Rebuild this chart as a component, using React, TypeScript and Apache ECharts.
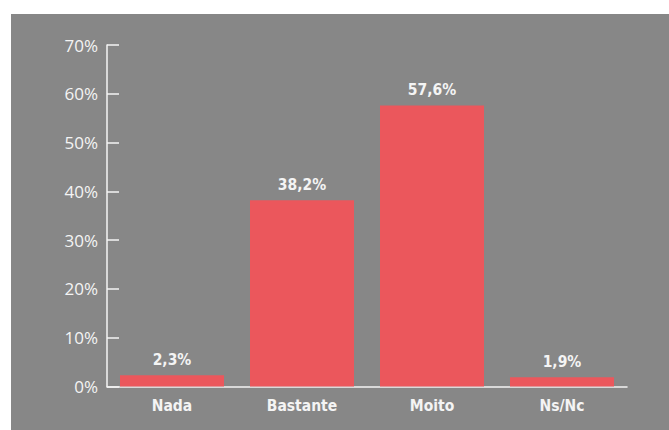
import React, { useEffect, useRef } from "react";
import * as echarts from "echarts";

const categories = ["Nada", "Bastante", "Moito", "Ns/Nc"];
const values = [2.3, 38.2, 57.6, 1.9];
const yTicks = { min: 0, max: 70, interval: 10 };

const BG = "#878787";
const BAR = "#EB575C";
const TXT = "#F4F4F4";
const NARROW = "'Liberation Sans Narrow', 'DejaVu Sans Condensed', sans-serif";

export default function App() {
  const ref = useRef<HTMLDivElement>(null);
  useEffect(() => {
    if (!ref.current) return;
    const chart = echarts.init(ref.current, null, { renderer: "svg" });
    chart.setOption({
      animation: false,
      backgroundColor: BG,
      grid: { left: 96, right: 42, top: 31, bottom: 43.5 },
      xAxis: {
        type: "category",
        data: categories,
        boundaryGap: true,
        axisLine: { lineStyle: { color: TXT, width: 1.5 } },
        axisTick: { inside: true, length: 8, lineStyle: { color: TXT, width: 1.5 } },
        axisLabel: {
          color: TXT,
          fontFamily: NARROW,
          fontWeight: "bold",
          fontSize: 15.5,
          margin: 11,
        },
      },
      yAxis: {
        type: "value",
        min: yTicks.min,
        max: yTicks.max,
        interval: yTicks.interval,
        splitLine: { show: false },
        axisLine: { show: true, lineStyle: { color: TXT, width: 1.5 } },
        axisTick: { show: true, inside: true, length: 12, lineStyle: { color: TXT, width: 1.5 } },
        axisLabel: {
          color: TXT,
          fontFamily: "'Open Sans', sans-serif",
          fontSize: 17,
          margin: 9,
          formatter: (v: number) => `${v}%`,
        },
      },
      series: [
        {
          type: "bar",
          data: values,
          barCategoryGap: "20%",
          itemStyle: { color: BAR },
          label: {
            show: true,
            position: "top",
            distance: 7,
            color: TXT,
            fontFamily: NARROW,
            fontWeight: "bold",
            fontSize: 15.5,
            formatter: (p: any) => `${String(p.value).replace(".", ",")}%`,
          },
        },
      ],
    });
    return () => chart.dispose();
  }, []);
  return (
    <div style={{ position: "absolute", left: 0, top: 0, width: 669, height: 430, background: "#ffffff" }}>
      <div ref={ref} style={{ position: "absolute", left: 11, top: 14, width: 658, height: 416 }} />
    </div>
  );
}
